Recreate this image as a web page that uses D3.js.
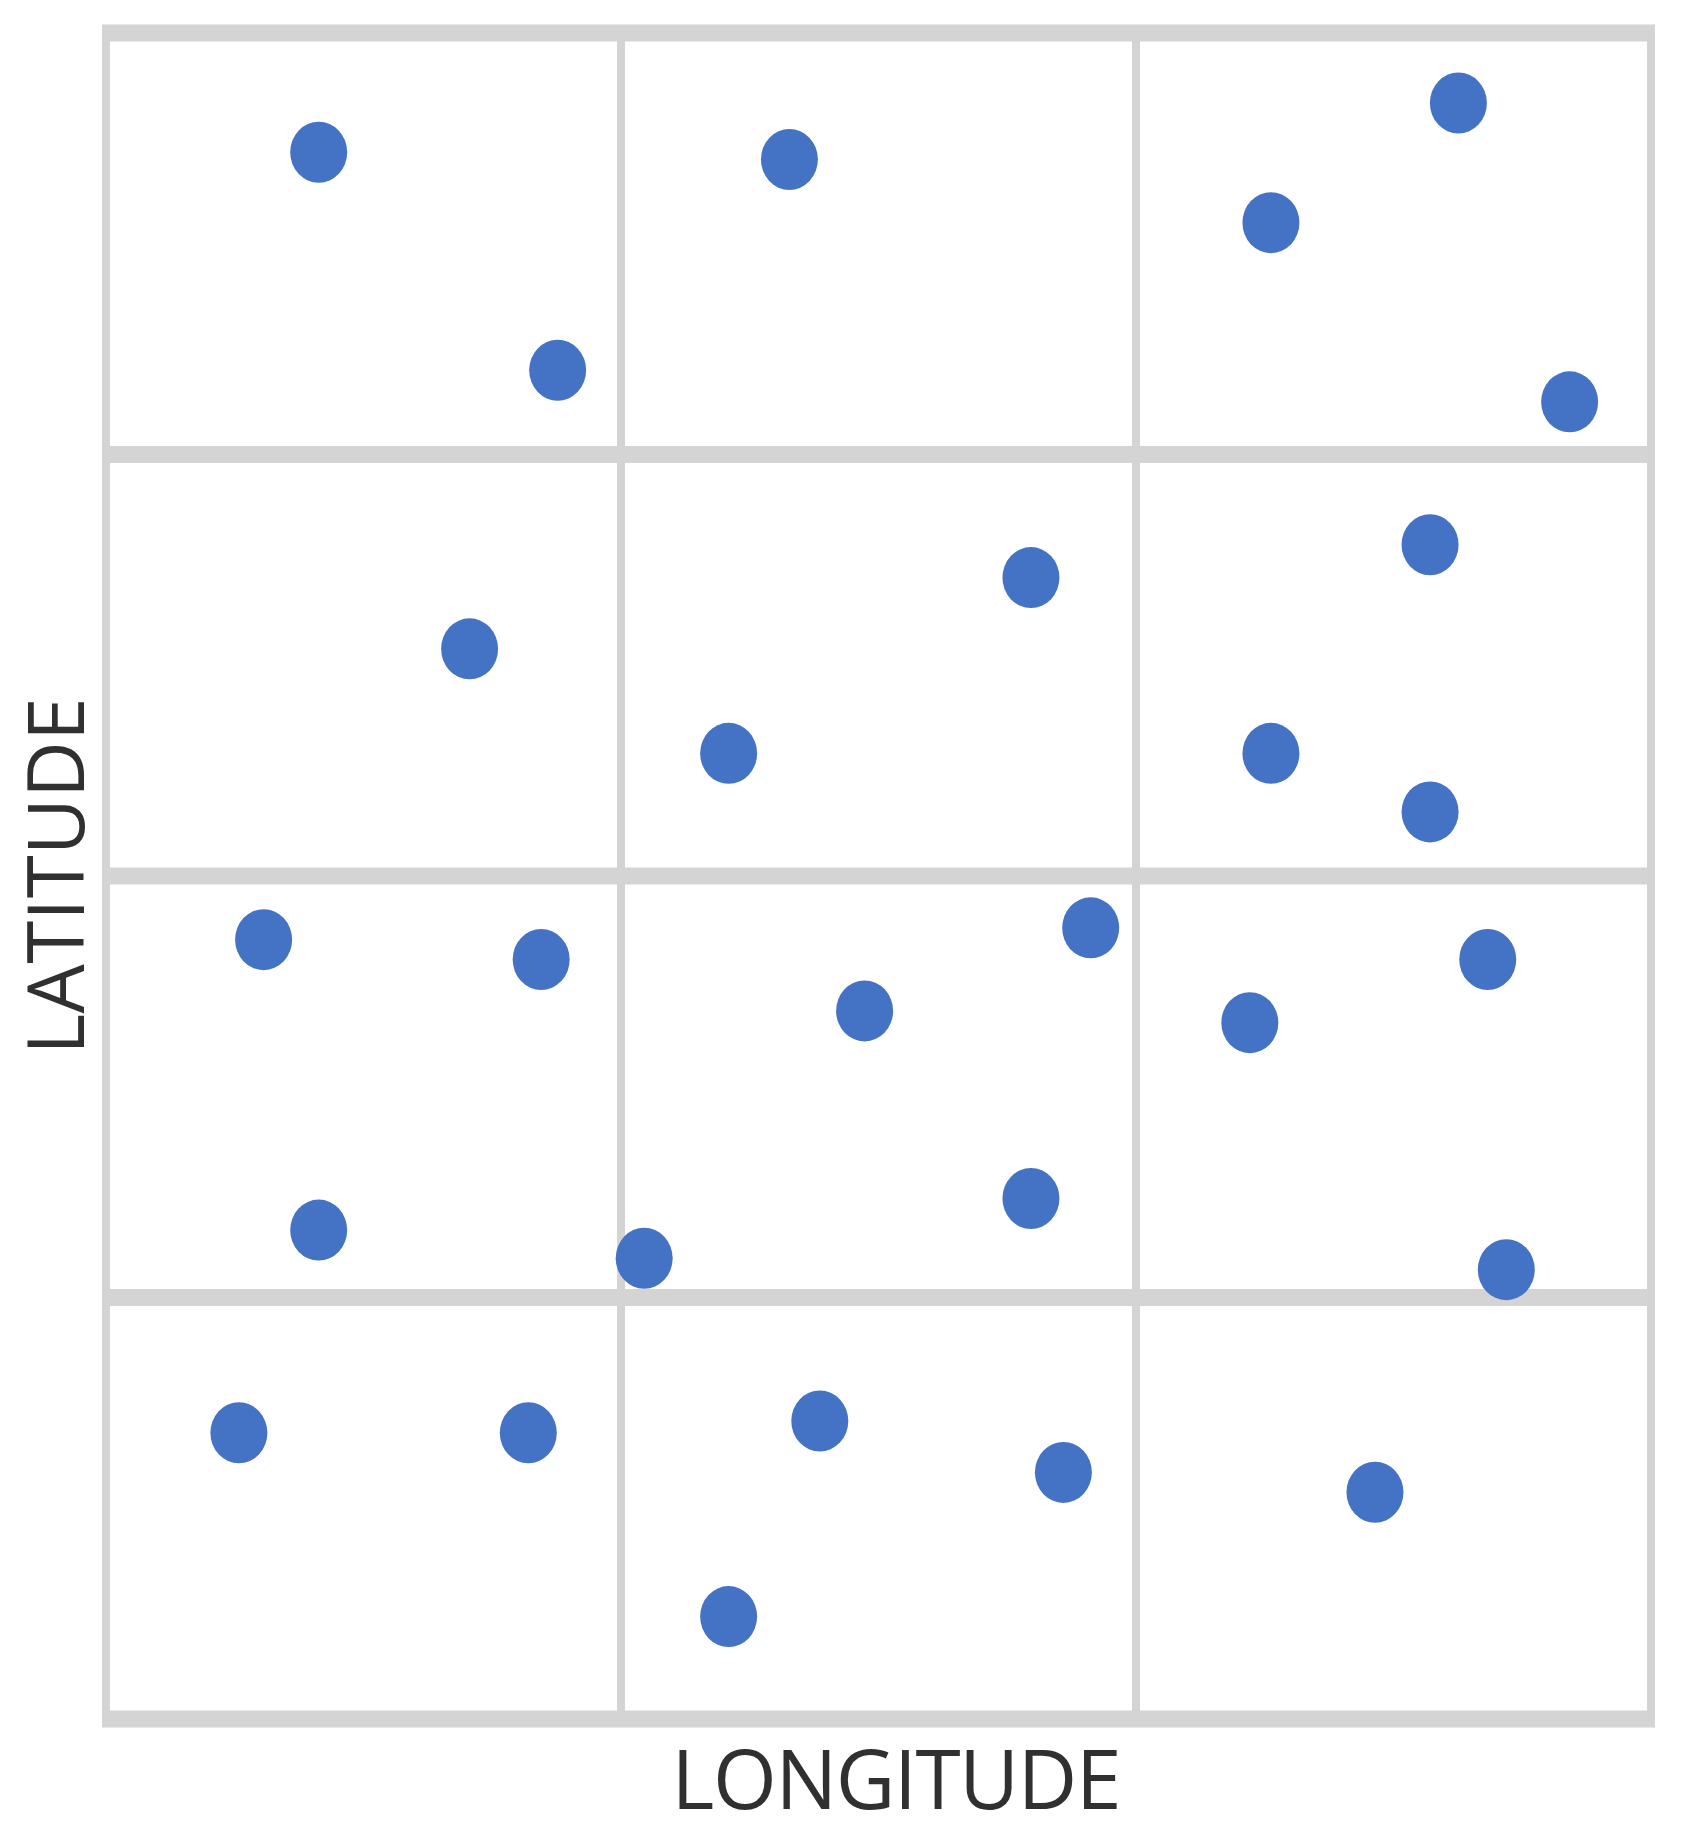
<!DOCTYPE html>
<html>
<head>
<meta charset="utf-8">
<script src="https://cdn.jsdelivr.net/npm/d3@7"></script>
<style>
  html, body { margin: 0; padding: 0; background: #ffffff; }
  svg { display: block; }
</style>
</head>
<body>
<svg id="chart" width="1681" height="1837"></svg>
<script>
// ---- data (longitude / latitude in grid-cell units) ----
const longitude = [0.413, 0.877, 1.327, 2.626, 2.262, 2.842,
                   0.706, 1.796, 1.209, 2.571, 2.262, 2.571,
                   0.306, 0.845, 0.413, 1.045, 1.473, 1.912, 1.796, 2.221, 2.683, 2.719,
                   0.258, 0.820, 1.386, 1.859, 1.209, 2.464];
const latitude  = [3.717, 3.200, 3.700, 3.834, 3.550, 3.125,
                   2.539, 2.708, 2.291, 2.786, 2.291, 2.152,
                   1.849, 1.802, 1.160, 1.093, 1.680, 1.877, 1.235, 1.652, 1.802, 1.066,
                   0.679, 0.679, 0.707, 0.585, 0.243, 0.538];
const lonGrid = [0, 1, 2, 3];
const latGrid = [0, 1, 2, 3, 4];
const xLabel = "LONGITUDE";
const yLabel = "LATITUDE";

// ---- layout ----
const svg = d3.select("#chart");
const x = d3.scaleLinear().domain([0, 3]).range([106, 1651]);
const y = d3.scaleLinear().domain([0, 4]).range([1719, 33]);

const gridColor = "#d4d4d4";
const vW = 8, hW = 17;

// vertical grid lines
svg.append("g").selectAll("line")
  .data(lonGrid).join("line")
  .attr("x1", d => x(d)).attr("x2", d => x(d))
  .attr("y1", y(4)).attr("y2", y(0))
  .attr("stroke", gridColor).attr("stroke-width", vW);

// horizontal grid lines
svg.append("g").selectAll("line")
  .data(latGrid).join("line")
  .attr("x1", x(0) - vW / 2).attr("x2", x(3) + vW / 2)
  .attr("y1", d => y(d)).attr("y2", d => y(d))
  .attr("stroke", gridColor).attr("stroke-width", hW);

// points
const pts = longitude.map((lon, i) => ({lon, lat: latitude[i]}));
svg.append("g").selectAll("ellipse")
  .data(pts).join("ellipse")
  .attr("cx", d => x(d.lon))
  .attr("cy", d => y(d.lat))
  .attr("rx", 28.5).attr("ry", 30.5)
  .attr("fill", "#4472c4");

// axis labels
svg.append("text")
  .attr("x", (x(0) + x(3)) / 2 + 18)
  .attr("y", 1809)
  .attr("text-anchor", "middle")
  .attr("font-family", "'Open Sans', 'Noto Sans', sans-serif")
  .attr("font-size", 82)
  .attr("textLength", 450)
  .attr("fill", "#303030")
  .text(xLabel);

svg.append("text")
  .attr("transform", `translate(84, ${(y(0) + y(4)) / 2}) rotate(-90)`)
  .attr("text-anchor", "middle")
  .attr("font-family", "'Open Sans', 'Noto Sans', sans-serif")
  .attr("font-size", 78)
  .attr("textLength", 357)
  .attr("fill", "#303030")
  .text(yLabel);
</script>
</body>
</html>
